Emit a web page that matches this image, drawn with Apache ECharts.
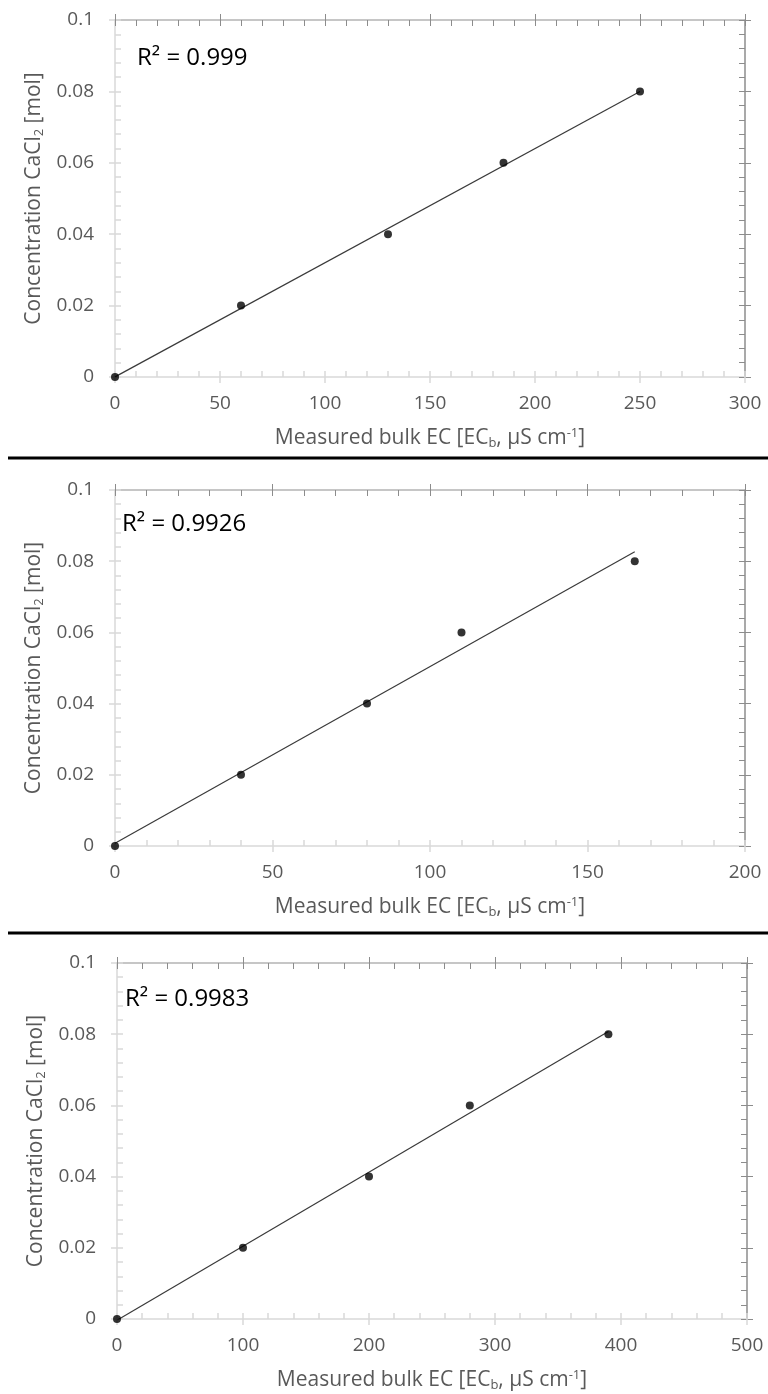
<!DOCTYPE html>
<html>
<head>
<meta charset="utf-8">
<script src="https://cdn.jsdelivr.net/npm/echarts@6/dist/echarts.min.js"></script>
<style>
  html, body { margin: 0; padding: 0; background: #fff; }
  #chart { width: 768px; height: 1394px; }
</style>
</head>
<body>
<div id="chart"></div>
<script>
// Calibration data for three probes: measured bulk EC vs. CaCl2 concentration
const ecProbe1 = [0, 60, 130, 185, 250];
const concProbe1 = [0, 0.02, 0.04, 0.06, 0.08];
const ecProbe2 = [0, 40, 80, 110, 165];
const concProbe2 = [0, 0.02, 0.04, 0.06, 0.08];
const ecProbe3 = [0, 100, 200, 280, 390];
const concProbe3 = [0, 0.02, 0.04, 0.06, 0.08];

const r2Labels = ['R² = 0.999', 'R² = 0.9926', 'R² = 0.9983'];
const xMaxes = [300, 200, 500];
const xIntervals = [50, 50, 100];
const yMax = 0.1;
const yInterval = 0.02;

const panels = [
  { x: ecProbe1, y: concProbe1 },
  { x: ecProbe2, y: concProbe2 },
  { x: ecProbe3, y: concProbe3 }
];

// grid rectangles (pixels)
const grids = [
  { left: 115, top: 20, width: 630, height: 357 },
  { left: 115, top: 490, width: 630, height: 356 },
  { left: 117, top: 963, width: 630, height: 356 }
];
const r2Pos = [[137, 63], [122, 529], [125, 1004]];
const separatorsY = [458, 933];

const FONT = '"Open Sans", "Noto Sans", sans-serif';
const LABEL_COLOR = '#595959';
const LIGHT = '#d9d9d9';
const DARK = '#8c8c8c';
const TOPC = '#b4b4b4';

// least-squares linear trendline over the data range
function trend(xs, ys) {
  const n = xs.length;
  const mx = xs.reduce((a, b) => a + b, 0) / n;
  const my = ys.reduce((a, b) => a + b, 0) / n;
  let sxy = 0, sxx = 0;
  for (let i = 0; i < n; i++) { sxy += (xs[i] - mx) * (ys[i] - my); sxx += (xs[i] - mx) ** 2; }
  const k = sxy / sxx, b = my - k * mx;
  const x0 = Math.min(...xs), x1 = Math.max(...xs);
  return [[x0, b + k * x0], [x1, b + k * x1]];
}

const xAxes = [], yAxes = [], series = [], graphic = [];

panels.forEach((p, g) => {
  const xBase = { gridIndex: g, type: 'value', min: 0, max: xMaxes[g], interval: xIntervals[g], splitLine: { show: false } };
  const yBase = { gridIndex: g, type: 'value', min: 0, max: yMax, interval: yInterval, splitLine: { show: false } };

  // bottom axis: line, outward tick half, labels, title
  xAxes.push(Object.assign({}, xBase, {
    position: 'bottom',
    axisLine: { show: true, onZero: false, lineStyle: { color: LIGHT, width: 1.5 } },
    axisTick: { show: true, inside: false, length: 6, lineStyle: { color: LIGHT, width: 1.5 } },
    axisLabel: { color: LABEL_COLOR, fontSize: 19, fontFamily: FONT, margin: 17 },
    name: 'Measured bulk EC [EC{sub|b}, µS cm{sup|-1}]',
    nameLocation: 'middle',
    nameGap: 49,
    nameTextStyle: {
      color: LABEL_COLOR, fontSize: 21, fontFamily: FONT,
      rich: {
        sub: { fontSize: 13, fontFamily: FONT, color: LABEL_COLOR, padding: [11, 0, 0, 0] },
        sup: { fontSize: 13, fontFamily: FONT, color: LABEL_COLOR, padding: [0, 0, 9, 0] }
      }
    }
  }));
  // bottom axis: inward tick half + minor ticks
  xAxes.push(Object.assign({}, xBase, {
    position: 'bottom',
    axisLine: { show: false, onZero: false },
    axisTick: { show: true, inside: true, length: 6, lineStyle: { color: LIGHT, width: 1.5 } },
    minorTick: { show: true, splitNumber: 5, length: 6, lineStyle: { color: LIGHT, width: 1.5 } },
    axisLabel: { show: false }
  }));
  // top frame axis
  xAxes.push(Object.assign({}, xBase, {
    position: 'top',
    axisLine: { show: true, onZero: false, lineStyle: { color: TOPC, width: 1.5 } },
    axisTick: { show: true, inside: false, length: 6, lineStyle: { color: DARK, width: 1 } },
    axisLabel: { show: false }
  }));
  xAxes.push(Object.assign({}, xBase, {
    position: 'top',
    axisLine: { show: false, onZero: false },
    axisTick: { show: true, inside: true, length: 6, lineStyle: { color: DARK, width: 1 } },
    minorTick: { show: true, splitNumber: 5, length: 6, lineStyle: { color: DARK, width: 1 } },
    axisLabel: { show: false }
  }));

  // left axis: line, outward tick half, labels, title
  yAxes.push(Object.assign({}, yBase, {
    position: 'left',
    axisLine: { show: true, onZero: false, lineStyle: { color: LIGHT, width: 1.5 } },
    axisTick: { show: true, inside: false, length: 6, lineStyle: { color: LIGHT, width: 1.5 } },
    axisLabel: { color: LABEL_COLOR, fontSize: 19, fontFamily: FONT, margin: 21,
      formatter: v => (Math.round(v * 100) / 100).toString() },
    name: 'Concentration CaCl{sub|2} [mol]',
    nameLocation: 'middle',
    nameGap: 63,
    nameRotate: 90,
    nameTextStyle: {
      color: LABEL_COLOR, fontSize: 21, fontFamily: FONT,
      rich: {
        sub: { fontSize: 13, fontFamily: FONT, color: LABEL_COLOR, padding: [11, 0, 0, 0] }
      }
    }
  }));
  yAxes.push(Object.assign({}, yBase, {
    position: 'left',
    axisLine: { show: false, onZero: false },
    axisTick: { show: true, inside: true, length: 6, lineStyle: { color: LIGHT, width: 1.5 } },
    minorTick: { show: true, splitNumber: 5, length: 6, lineStyle: { color: LIGHT, width: 1.5 } },
    axisLabel: { show: false }
  }));
  // right frame axis
  yAxes.push(Object.assign({}, yBase, {
    position: 'right',
    axisLine: { show: true, onZero: false, lineStyle: { color: DARK, width: 1.5 } },
    axisTick: { show: true, inside: false, length: 6, lineStyle: { color: DARK, width: 1 } },
    axisLabel: { show: false }
  }));
  yAxes.push(Object.assign({}, yBase, {
    position: 'right',
    axisLine: { show: false, onZero: false },
    axisTick: { show: true, inside: true, length: 6, lineStyle: { color: DARK, width: 1 } },
    minorTick: { show: true, splitNumber: 5, length: 6, lineStyle: { color: DARK, width: 1 } },
    axisLabel: { show: false }
  }));

  series.push({
    type: 'line',
    xAxisIndex: g * 4, yAxisIndex: g * 4,
    data: trend(p.x, p.y),
    showSymbol: false,
    silent: true,
    lineStyle: { color: '#3a3a3a', width: 1.2 },
    z: 2
  });
  series.push({
    type: 'scatter',
    xAxisIndex: g * 4, yAxisIndex: g * 4,
    data: p.x.map((x, i) => [x, p.y[i]]),
    symbol: 'circle',
    symbolSize: 8,
    itemStyle: { color: '#000' },
    z: 3
  });

  graphic.push({
    type: 'text',
    left: r2Pos[g][0],
    top: r2Pos[g][1] - 17,
    style: { text: r2Labels[g], fill: '#000', fontSize: 24, fontFamily: FONT }
  });
});

separatorsY.forEach(y => {
  graphic.push({
    type: 'line',
    shape: { x1: 8, y1: y, x2: 768, y2: y },
    style: { stroke: '#000', lineWidth: 3 }
  });
});

const chart = echarts.init(document.getElementById('chart'), null, { renderer: 'canvas' });
chart.setOption({
  backgroundColor: '#fff',
  animation: false,
  grid: grids.map(r => Object.assign({ containLabel: false }, r)),
  xAxis: xAxes,
  yAxis: yAxes,
  series: series,
  graphic: graphic
});
</script>
</body>
</html>
